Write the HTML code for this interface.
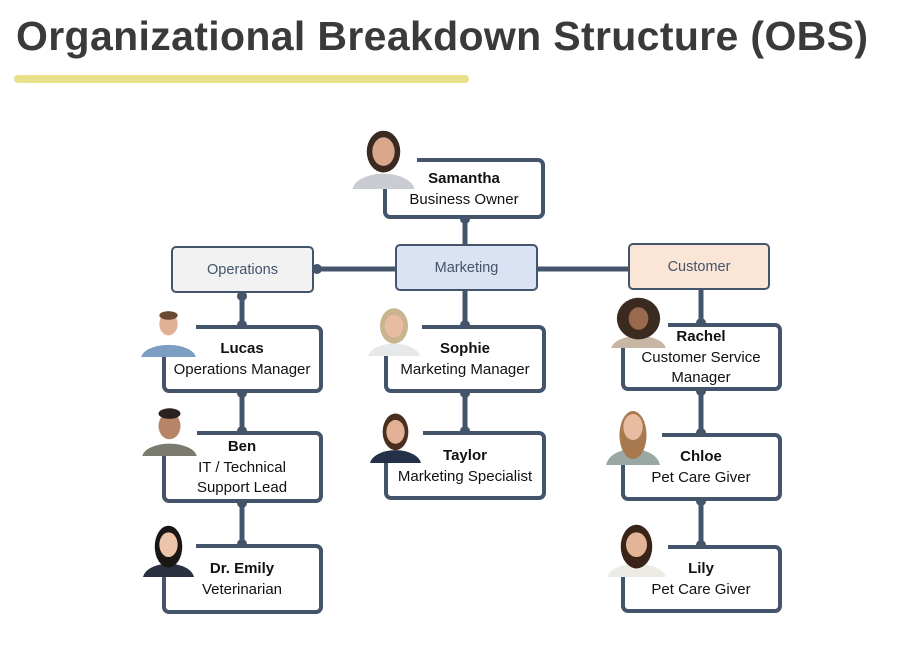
<!DOCTYPE html>
<html><head><meta charset="utf-8"><style>
body{margin:0;width:897px;height:661px;background:#fff;position:relative;overflow:hidden;font-family:"Liberation Sans",sans-serif}
.t{position:absolute;left:16px;top:13px;font-size:41px;font-weight:bold;color:#3a3a3a;letter-spacing:0.35px;white-space:nowrap}
.bar{position:absolute;left:14px;top:75px;width:455px;height:8px;border-radius:4px;background:#e9e08c}
.b{position:absolute;box-sizing:border-box;border:4px solid #44546a;border-radius:7px;background:#fff}
.d{border-width:2px;border-radius:5px;color:#44546a;font-size:14.5px;display:flex;align-items:center;justify-content:center}
.tx{position:absolute;text-align:center;font-size:15px;color:#111;line-height:20.5px;white-space:nowrap;transform:translateX(-50%)}
.tx b{font-size:15px}
svg{position:absolute;left:0;top:0}
</style></head><body>
<div class="t">Organizational Breakdown Structure (OBS)</div>
<div class="bar"></div>
<svg width="897" height="661">
<g stroke="#44546a" stroke-width="5" fill="none">
<line x1="465" y1="215" x2="465" y2="432"/>
<line x1="314" y1="269" x2="630" y2="269"/>
<line x1="242" y1="292" x2="242" y2="546"/>
<line x1="701" y1="289" x2="701" y2="547"/>
</g>
<g fill="#44546a">
<circle cx="317" cy="269" r="5"/>
<circle cx="242" cy="296" r="5"/><circle cx="242" cy="325" r="5"/>
<circle cx="242" cy="393" r="5"/><circle cx="242" cy="431" r="5"/>
<circle cx="242" cy="503" r="5"/><circle cx="242" cy="544" r="5"/>
<circle cx="465" cy="219" r="5"/><circle cx="465" cy="325" r="5"/>
<circle cx="465" cy="393" r="5"/><circle cx="465" cy="431" r="5"/>
<circle cx="701" cy="323" r="5"/><circle cx="701" cy="391" r="5"/>
<circle cx="701" cy="433" r="5"/><circle cx="701" cy="501" r="5"/><circle cx="701" cy="545" r="5"/>
</g>
</svg>
<div class="b" style="left:383px;top:158px;width:162px;height:61px"></div>
<div class="b d" style="left:171px;top:246px;width:143px;height:47px;background:#f2f2f2">Operations</div>
<div class="b d" style="left:395px;top:244px;width:143px;height:47px;background:#dae3f3">Marketing</div>
<div class="b d" style="left:628px;top:243px;width:142px;height:47px;background:#fbe5d6">Customer</div>
<div class="b" style="left:162px;top:325px;width:161px;height:68px"></div>
<div class="b" style="left:384px;top:325px;width:162px;height:68px"></div>
<div class="b" style="left:621px;top:323px;width:161px;height:68px"></div>
<div class="b" style="left:162px;top:431px;width:161px;height:72px"></div>
<div class="b" style="left:384px;top:431px;width:162px;height:69px"></div>
<div class="b" style="left:621px;top:433px;width:161px;height:68px"></div>
<div class="b" style="left:162px;top:544px;width:161px;height:70px"></div>
<div class="b" style="left:621px;top:545px;width:161px;height:68px"></div>

<svg width="897" height="661">
<defs>
<g id="p"><rect x="0" y="0" width="60" height="60" fill="#fff"/><ellipse cx="30" cy="62" rx="28" ry="16" fill="#c9ccd2"/><ellipse cx="30" cy="26" rx="15" ry="19" fill="#3b2a22"/><ellipse cx="30" cy="26" rx="10" ry="13" fill="#d9a88a"/></g>
</defs>
<g>
<svg x="350" y="123" width="67" height="66" viewBox="0 0 60 60" preserveAspectRatio="none"><use href="#p"/></svg>
<svg x="141" y="305" width="55" height="52" viewBox="0 0 60 60" preserveAspectRatio="none"><rect width="60" height="60" fill="#fff"/><ellipse cx="30" cy="62" rx="30" ry="16" fill="#7b9ec2"/><ellipse cx="30" cy="22" rx="10" ry="13" fill="#e0b095"/><ellipse cx="30" cy="12" rx="10" ry="5" fill="#6a4a32"/></svg>
<svg x="142" y="403" width="55" height="53" viewBox="0 0 60 60" preserveAspectRatio="none"><rect width="60" height="60" fill="#fff"/><ellipse cx="30" cy="62" rx="30" ry="16" fill="#7a7a6e"/><ellipse cx="30" cy="26" rx="12" ry="15" fill="#b88468"/><ellipse cx="30" cy="12" rx="12" ry="6" fill="#2a2220"/></svg>
<svg x="141" y="520" width="55" height="57" viewBox="0 0 60 60" preserveAspectRatio="none"><rect width="60" height="60" fill="#fff"/><ellipse cx="30" cy="62" rx="28" ry="16" fill="#2a3040"/><ellipse cx="30" cy="28" rx="15" ry="22" fill="#1a1614"/><ellipse cx="30" cy="26" rx="10" ry="13" fill="#ecc4aa"/></svg>
<svg x="366" y="303" width="56" height="53" viewBox="0 0 60 60" preserveAspectRatio="none"><rect width="60" height="60" fill="#fff"/><ellipse cx="30" cy="62" rx="28" ry="16" fill="#e6e8ea"/><ellipse cx="30" cy="26" rx="15" ry="20" fill="#c9b48e"/><ellipse cx="30" cy="26" rx="10" ry="13" fill="#e8bca2"/></svg>
<svg x="368" y="408" width="55" height="55" viewBox="0 0 60 60" preserveAspectRatio="none"><rect width="60" height="60" fill="#fff"/><ellipse cx="30" cy="62" rx="28" ry="16" fill="#243048"/><ellipse cx="30" cy="26" rx="14" ry="20" fill="#4a2e20"/><ellipse cx="30" cy="26" rx="10" ry="13" fill="#e2b296"/></svg>
<svg x="609" y="296" width="59" height="52" viewBox="0 0 60 60" preserveAspectRatio="none"><rect width="60" height="60" fill="#fff"/><ellipse cx="30" cy="62" rx="28" ry="16" fill="#c8b6a4"/><ellipse cx="30" cy="26" rx="22" ry="24" fill="#3a2a20"/><ellipse cx="30" cy="26" rx="10" ry="13" fill="#9a6a4e"/></svg>
<svg x="604" y="405" width="58" height="60" viewBox="0 0 60 60" preserveAspectRatio="none"><rect width="60" height="60" fill="#fff"/><ellipse cx="30" cy="62" rx="28" ry="18" fill="#9aa8a4"/><ellipse cx="30" cy="30" rx="14" ry="24" fill="#a8794e"/><ellipse cx="30" cy="22" rx="10" ry="13" fill="#e8bca0"/></svg>
<svg x="605" y="520" width="63" height="57" viewBox="0 0 60 60" preserveAspectRatio="none"><rect width="60" height="60" fill="#fff"/><ellipse cx="30" cy="62" rx="28" ry="16" fill="#ecebe6"/><ellipse cx="30" cy="28" rx="15" ry="23" fill="#3a2418"/><ellipse cx="30" cy="26" rx="10" ry="13" fill="#e4b498"/></svg>
</g>
</svg>

<div class="tx" style="left:464px;top:169px"><b>Samantha</b><br>Business Owner</div>
<div class="tx" style="left:242px;top:339px"><b>Lucas</b><br>Operations Manager</div>
<div class="tx" style="left:465px;top:339px"><b>Sophie</b><br>Marketing Manager</div>
<div class="tx" style="left:701px;top:327px"><b>Rachel</b><br>Customer Service<br>Manager</div>
<div class="tx" style="left:242px;top:437px"><b>Ben</b><br>IT / Technical<br>Support Lead</div>
<div class="tx" style="left:465px;top:446px"><b>Taylor</b><br>Marketing Specialist</div>
<div class="tx" style="left:701px;top:447px"><b>Chloe</b><br>Pet Care Giver</div>
<div class="tx" style="left:242px;top:559px"><b>Dr. Emily</b><br>Veterinarian</div>
<div class="tx" style="left:701px;top:559px"><b>Lily</b><br>Pet Care Giver</div>
</body></html>
